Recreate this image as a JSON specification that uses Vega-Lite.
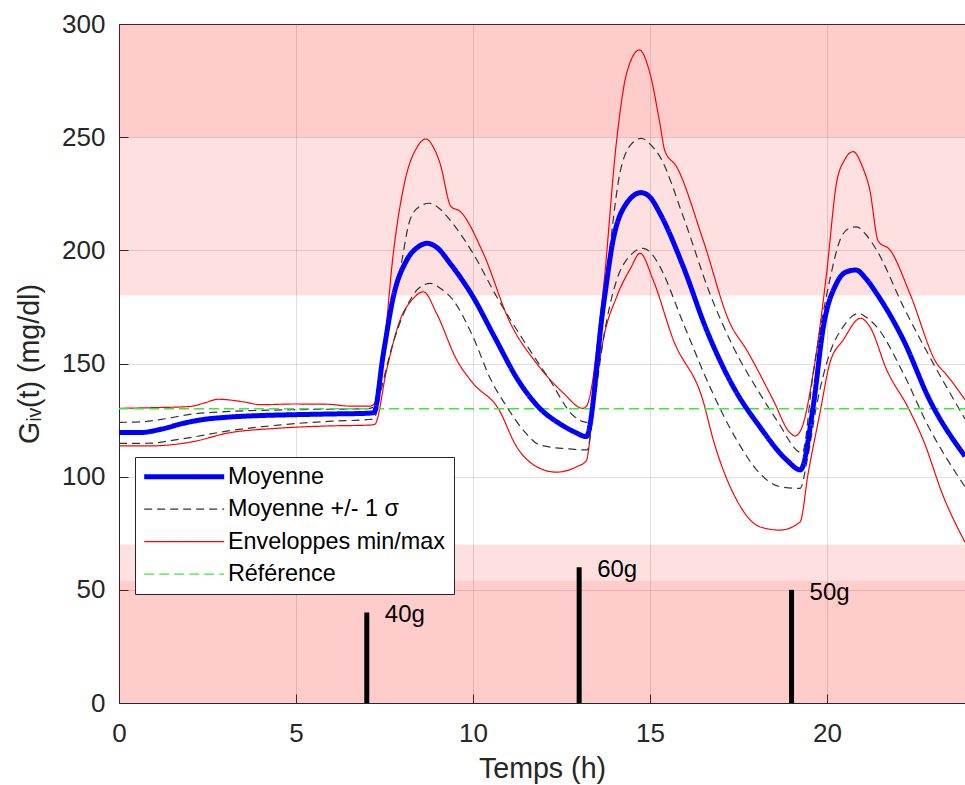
{
  "$schema": "https://vega.github.io/schema/vega-lite/v6.json",
  "width": 846,
  "height": 679,
  "autosize": {"type": "none"},
  "padding": {"left": 119, "top": 24, "right": 0, "bottom": 82},
  "background": "white",
  "config": {
    "view": {"stroke": "#262626", "strokeWidth": 1},
    "font": "Liberation Sans",
    "axis": {
      "domainColor": "#262626",
      "tickColor": "#262626",
      "labelColor": "#262626",
      "titleColor": "#262626",
      "gridColor": "#262626",
      "gridOpacity": 0.15,
      "labelFont": "Liberation Sans",
      "titleFont": "Liberation Sans",
      "labelFontSize": 26,
      "titleFontSize": 28.6,
      "titleFontWeight": "normal",
      "labelFlush": false,
      "ticks": true,
      "tickSize": -9,
      "tickWidth": 1
    },
    "legend": {
      "fillColor": "white",
      "strokeColor": "#262626",
      "padding": 8,
      "labelFont": "Liberation Sans",
      "labelFontSize": 23.4,
      "labelColor": "#000000",
      "symbolType": "M-8,0H8",
      "symbolSize": 100,
      "symbolOffset": 29.5,
      "labelOffset": 32,
      "rowPadding": 7.5,
      "labelLimit": 400
    }
  },
  "datasets": {
    "bands": [
      {"lo": 0, "hi": 54, "zone": "danger", "t0": 0, "t1": 23.9},
      {"lo": 54, "hi": 70, "zone": "warn", "t0": 0, "t1": 23.9},
      {"lo": 180, "hi": 250, "zone": "warn", "t0": 0, "t1": 23.9},
      {"lo": 250, "hi": 300, "zone": "danger", "t0": 0, "t1": 23.9}
    ],
    "meals": [
      {"t": 7, "amount": 40, "label": "40g"},
      {"t": 13, "amount": 60, "label": "60g"},
      {"t": 19, "amount": 50, "label": "50g"}
    ],
    "curves": [
      {"serie": "Référence", "line": "ref", "t": 0, "g": 130},
      {"serie": "Référence", "line": "ref", "t": 23.9, "g": 130},

      {"serie": "Moyenne", "line": "moy", "t": 0, "g": 119.5},
      {"serie": "Moyenne", "line": "moy", "t": 0.6, "g": 119.5},
      {"serie": "Moyenne", "line": "moy", "t": 1.2, "g": 121},
      {"serie": "Moyenne", "line": "moy", "t": 1.8, "g": 123.5},
      {"serie": "Moyenne", "line": "moy", "t": 2.4, "g": 125.3},
      {"serie": "Moyenne", "line": "moy", "t": 3, "g": 126.2},
      {"serie": "Moyenne", "line": "moy", "t": 4, "g": 127},
      {"serie": "Moyenne", "line": "moy", "t": 5, "g": 127.4},
      {"serie": "Moyenne", "line": "moy", "t": 6, "g": 127.7},
      {"serie": "Moyenne", "line": "moy", "t": 7, "g": 128},
      {"serie": "Moyenne", "line": "moy", "t": 7.2, "g": 128.3},
      {"serie": "Moyenne", "line": "moy", "t": 7.47, "g": 154.5},
      {"serie": "Moyenne", "line": "moy", "t": 7.75, "g": 179.5},
      {"serie": "Moyenne", "line": "moy", "t": 8.13, "g": 195.7},
      {"serie": "Moyenne", "line": "moy", "t": 8.45, "g": 201.5},
      {"serie": "Moyenne", "line": "moy", "t": 8.71, "g": 203.1},
      {"serie": "Moyenne", "line": "moy", "t": 9.0, "g": 201},
      {"serie": "Moyenne", "line": "moy", "t": 9.35, "g": 194.3},
      {"serie": "Moyenne", "line": "moy", "t": 10.0, "g": 179.5},
      {"serie": "Moyenne", "line": "moy", "t": 10.6, "g": 162},
      {"serie": "Moyenne", "line": "moy", "t": 11.3, "g": 142},
      {"serie": "Moyenne", "line": "moy", "t": 11.9, "g": 130},
      {"serie": "Moyenne", "line": "moy", "t": 12.46, "g": 123.3},
      {"serie": "Moyenne", "line": "moy", "t": 12.9, "g": 119.5},
      {"serie": "Moyenne", "line": "moy", "t": 13.2, "g": 117.7},
      {"serie": "Moyenne", "line": "moy", "t": 13.68, "g": 175},
      {"serie": "Moyenne", "line": "moy", "t": 13.96, "g": 204.6},
      {"serie": "Moyenne", "line": "moy", "t": 14.34, "g": 220.8},
      {"serie": "Moyenne", "line": "moy", "t": 14.75, "g": 225.5},
      {"serie": "Moyenne", "line": "moy", "t": 15.0, "g": 223.5},
      {"serie": "Moyenne", "line": "moy", "t": 15.28, "g": 216.4},
      {"serie": "Moyenne", "line": "moy", "t": 15.94, "g": 192.8},
      {"serie": "Moyenne", "line": "moy", "t": 16.6, "g": 164.8},
      {"serie": "Moyenne", "line": "moy", "t": 17.35, "g": 139.8},
      {"serie": "Moyenne", "line": "moy", "t": 18.1, "g": 122.1},
      {"serie": "Moyenne", "line": "moy", "t": 18.86, "g": 107.4},
      {"serie": "Moyenne", "line": "moy", "t": 19.25, "g": 103},
      {"serie": "Moyenne", "line": "moy", "t": 19.61, "g": 130.9},
      {"serie": "Moyenne", "line": "moy", "t": 19.9, "g": 166.3},
      {"serie": "Moyenne", "line": "moy", "t": 20.27, "g": 185.4},
      {"serie": "Moyenne", "line": "moy", "t": 20.55, "g": 190.5},
      {"serie": "Moyenne", "line": "moy", "t": 20.82, "g": 191.3},
      {"serie": "Moyenne", "line": "moy", "t": 21.1, "g": 187.5},
      {"serie": "Moyenne", "line": "moy", "t": 21.4, "g": 181},
      {"serie": "Moyenne", "line": "moy", "t": 22.16, "g": 160.4},
      {"serie": "Moyenne", "line": "moy", "t": 22.9, "g": 133.9},
      {"serie": "Moyenne", "line": "moy", "t": 23.9, "g": 109},

      {"serie": "Moyenne +/- 1 σ", "line": "sup", "t": 0, "g": 124},
      {"serie": "Moyenne +/- 1 σ", "line": "sup", "t": 0.6, "g": 124.2},
      {"serie": "Moyenne +/- 1 σ", "line": "sup", "t": 1.2, "g": 125.3},
      {"serie": "Moyenne +/- 1 σ", "line": "sup", "t": 2, "g": 127.5},
      {"serie": "Moyenne +/- 1 σ", "line": "sup", "t": 3, "g": 128.7},
      {"serie": "Moyenne +/- 1 σ", "line": "sup", "t": 4, "g": 129.3},
      {"serie": "Moyenne +/- 1 σ", "line": "sup", "t": 5, "g": 129.6},
      {"serie": "Moyenne +/- 1 σ", "line": "sup", "t": 6, "g": 129.8},
      {"serie": "Moyenne +/- 1 σ", "line": "sup", "t": 7, "g": 130},
      {"serie": "Moyenne +/- 1 σ", "line": "sup", "t": 7.2, "g": 130.8},
      {"serie": "Moyenne +/- 1 σ", "line": "sup", "t": 7.37, "g": 147},
      {"serie": "Moyenne +/- 1 σ", "line": "sup", "t": 7.6, "g": 170},
      {"serie": "Moyenne +/- 1 σ", "line": "sup", "t": 7.94, "g": 191.3},
      {"serie": "Moyenne +/- 1 σ", "line": "sup", "t": 8.22, "g": 213.4},
      {"serie": "Moyenne +/- 1 σ", "line": "sup", "t": 8.5, "g": 219.5},
      {"serie": "Moyenne +/- 1 σ", "line": "sup", "t": 8.76, "g": 220.8},
      {"serie": "Moyenne +/- 1 σ", "line": "sup", "t": 9.05, "g": 218.5},
      {"serie": "Moyenne +/- 1 σ", "line": "sup", "t": 9.35, "g": 213.4},
      {"serie": "Moyenne +/- 1 σ", "line": "sup", "t": 10.0, "g": 198.7},
      {"serie": "Moyenne +/- 1 σ", "line": "sup", "t": 10.67, "g": 179.5},
      {"serie": "Moyenne +/- 1 σ", "line": "sup", "t": 11.42, "g": 160.4},
      {"serie": "Moyenne +/- 1 σ", "line": "sup", "t": 12.17, "g": 142.7},
      {"serie": "Moyenne +/- 1 σ", "line": "sup", "t": 12.83, "g": 127},
      {"serie": "Moyenne +/- 1 σ", "line": "sup", "t": 13.22, "g": 124},
      {"serie": "Moyenne +/- 1 σ", "line": "sup", "t": 13.78, "g": 189.9},
      {"serie": "Moyenne +/- 1 σ", "line": "sup", "t": 14.15, "g": 234},
      {"serie": "Moyenne +/- 1 σ", "line": "sup", "t": 14.45, "g": 246.5},
      {"serie": "Moyenne +/- 1 σ", "line": "sup", "t": 14.76, "g": 249.5},
      {"serie": "Moyenne +/- 1 σ", "line": "sup", "t": 15.0, "g": 247},
      {"serie": "Moyenne +/- 1 σ", "line": "sup", "t": 15.28, "g": 241.4},
      {"serie": "Moyenne +/- 1 σ", "line": "sup", "t": 15.94, "g": 214.9},
      {"serie": "Moyenne +/- 1 σ", "line": "sup", "t": 16.69, "g": 181},
      {"serie": "Moyenne +/- 1 σ", "line": "sup", "t": 17.35, "g": 157.4},
      {"serie": "Moyenne +/- 1 σ", "line": "sup", "t": 18.1, "g": 136.8},
      {"serie": "Moyenne +/- 1 σ", "line": "sup", "t": 18.58, "g": 125},
      {"serie": "Moyenne +/- 1 σ", "line": "sup", "t": 19.3, "g": 110.5},
      {"serie": "Moyenne +/- 1 σ", "line": "sup", "t": 19.61, "g": 145.6},
      {"serie": "Moyenne +/- 1 σ", "line": "sup", "t": 20.08, "g": 186.9},
      {"serie": "Moyenne +/- 1 σ", "line": "sup", "t": 20.37, "g": 204.6},
      {"serie": "Moyenne +/- 1 σ", "line": "sup", "t": 20.6, "g": 209.5},
      {"serie": "Moyenne +/- 1 σ", "line": "sup", "t": 20.84, "g": 210.4},
      {"serie": "Moyenne +/- 1 σ", "line": "sup", "t": 21.1, "g": 207},
      {"serie": "Moyenne +/- 1 σ", "line": "sup", "t": 21.4, "g": 200.2},
      {"serie": "Moyenne +/- 1 σ", "line": "sup", "t": 22.16, "g": 175.1},
      {"serie": "Moyenne +/- 1 σ", "line": "sup", "t": 22.9, "g": 153},
      {"serie": "Moyenne +/- 1 σ", "line": "sup", "t": 23.9, "g": 125.5},

      {"serie": "Moyenne +/- 1 σ", "line": "inf", "t": 0, "g": 114.7},
      {"serie": "Moyenne +/- 1 σ", "line": "inf", "t": 0.9, "g": 114.8},
      {"serie": "Moyenne +/- 1 σ", "line": "inf", "t": 1.5, "g": 116},
      {"serie": "Moyenne +/- 1 σ", "line": "inf", "t": 2.1, "g": 117.5},
      {"serie": "Moyenne +/- 1 σ", "line": "inf", "t": 3, "g": 120},
      {"serie": "Moyenne +/- 1 σ", "line": "inf", "t": 4.5, "g": 122.8},
      {"serie": "Moyenne +/- 1 σ", "line": "inf", "t": 6, "g": 124.5},
      {"serie": "Moyenne +/- 1 σ", "line": "inf", "t": 7, "g": 125.2},
      {"serie": "Moyenne +/- 1 σ", "line": "inf", "t": 7.2, "g": 125.5},
      {"serie": "Moyenne +/- 1 σ", "line": "inf", "t": 7.4, "g": 138},
      {"serie": "Moyenne +/- 1 σ", "line": "inf", "t": 7.66, "g": 154.5},
      {"serie": "Moyenne +/- 1 σ", "line": "inf", "t": 8.13, "g": 175.1},
      {"serie": "Moyenne +/- 1 σ", "line": "inf", "t": 8.45, "g": 183},
      {"serie": "Moyenne +/- 1 σ", "line": "inf", "t": 8.79, "g": 185.4},
      {"serie": "Moyenne +/- 1 σ", "line": "inf", "t": 9.1, "g": 183},
      {"serie": "Moyenne +/- 1 σ", "line": "inf", "t": 9.44, "g": 178},
      {"serie": "Moyenne +/- 1 σ", "line": "inf", "t": 10.0, "g": 161.8},
      {"serie": "Moyenne +/- 1 σ", "line": "inf", "t": 10.5, "g": 143},
      {"serie": "Moyenne +/- 1 σ", "line": "inf", "t": 10.95, "g": 131},
      {"serie": "Moyenne +/- 1 σ", "line": "inf", "t": 11.42, "g": 120.6},
      {"serie": "Moyenne +/- 1 σ", "line": "inf", "t": 11.89, "g": 114},
      {"serie": "Moyenne +/- 1 σ", "line": "inf", "t": 12.65, "g": 112.3},
      {"serie": "Moyenne +/- 1 σ", "line": "inf", "t": 13.22, "g": 111.8},
      {"serie": "Moyenne +/- 1 σ", "line": "inf", "t": 13.45, "g": 135},
      {"serie": "Moyenne +/- 1 σ", "line": "inf", "t": 13.68, "g": 160.4},
      {"serie": "Moyenne +/- 1 σ", "line": "inf", "t": 14.06, "g": 186.9},
      {"serie": "Moyenne +/- 1 σ", "line": "inf", "t": 14.4, "g": 197},
      {"serie": "Moyenne +/- 1 σ", "line": "inf", "t": 14.81, "g": 200.9},
      {"serie": "Moyenne +/- 1 σ", "line": "inf", "t": 15.05, "g": 198.5},
      {"serie": "Moyenne +/- 1 σ", "line": "inf", "t": 15.28, "g": 192.8},
      {"serie": "Moyenne +/- 1 σ", "line": "inf", "t": 15.94, "g": 167.8},
      {"serie": "Moyenne +/- 1 σ", "line": "inf", "t": 16.69, "g": 139.8},
      {"serie": "Moyenne +/- 1 σ", "line": "inf", "t": 17.45, "g": 116.2},
      {"serie": "Moyenne +/- 1 σ", "line": "inf", "t": 18.1, "g": 101.5},
      {"serie": "Moyenne +/- 1 σ", "line": "inf", "t": 18.67, "g": 95.6},
      {"serie": "Moyenne +/- 1 σ", "line": "inf", "t": 19.24, "g": 94.8},
      {"serie": "Moyenne +/- 1 σ", "line": "inf", "t": 19.45, "g": 108},
      {"serie": "Moyenne +/- 1 σ", "line": "inf", "t": 19.7, "g": 130.9},
      {"serie": "Moyenne +/- 1 σ", "line": "inf", "t": 20.08, "g": 154.5},
      {"serie": "Moyenne +/- 1 σ", "line": "inf", "t": 20.46, "g": 166.3},
      {"serie": "Moyenne +/- 1 σ", "line": "inf", "t": 20.89, "g": 172.1},
      {"serie": "Moyenne +/- 1 σ", "line": "inf", "t": 21.1, "g": 170.5},
      {"serie": "Moyenne +/- 1 σ", "line": "inf", "t": 21.4, "g": 166.3},
      {"serie": "Moyenne +/- 1 σ", "line": "inf", "t": 22.16, "g": 145.6},
      {"serie": "Moyenne +/- 1 σ", "line": "inf", "t": 22.82, "g": 123.6},
      {"serie": "Moyenne +/- 1 σ", "line": "inf", "t": 23.9, "g": 95.5},

      {"serie": "Enveloppes min/max", "line": "max", "t": 0, "g": 130.2},
      {"serie": "Enveloppes min/max", "line": "max", "t": 1, "g": 130.5},
      {"serie": "Enveloppes min/max", "line": "max", "t": 2, "g": 131},
      {"serie": "Enveloppes min/max", "line": "max", "t": 2.4, "g": 132.5},
      {"serie": "Enveloppes min/max", "line": "max", "t": 2.8, "g": 134.2},
      {"serie": "Enveloppes min/max", "line": "max", "t": 3.5, "g": 133.1},
      {"serie": "Enveloppes min/max", "line": "max", "t": 4, "g": 131.8},
      {"serie": "Enveloppes min/max", "line": "max", "t": 4.9, "g": 132.1},
      {"serie": "Enveloppes min/max", "line": "max", "t": 5.9, "g": 132},
      {"serie": "Enveloppes min/max", "line": "max", "t": 6.5, "g": 131.2},
      {"serie": "Enveloppes min/max", "line": "max", "t": 7.1, "g": 131.2},
      {"serie": "Enveloppes min/max", "line": "max", "t": 7.25, "g": 133},
      {"serie": "Enveloppes min/max", "line": "max", "t": 7.47, "g": 154.5},
      {"serie": "Enveloppes min/max", "line": "max", "t": 7.75, "g": 198.7},
      {"serie": "Enveloppes min/max", "line": "max", "t": 8.13, "g": 234},
      {"serie": "Enveloppes min/max", "line": "max", "t": 8.4, "g": 245},
      {"serie": "Enveloppes min/max", "line": "max", "t": 8.67, "g": 249.2},
      {"serie": "Enveloppes min/max", "line": "max", "t": 8.9, "g": 245},
      {"serie": "Enveloppes min/max", "line": "max", "t": 9.07, "g": 238.4},
      {"serie": "Enveloppes min/max", "line": "max", "t": 9.38, "g": 219.3},
      {"serie": "Enveloppes min/max", "line": "max", "t": 9.63, "g": 217.3},
      {"serie": "Enveloppes min/max", "line": "max", "t": 10.29, "g": 198.7},
      {"serie": "Enveloppes min/max", "line": "max", "t": 11.05, "g": 168},
      {"serie": "Enveloppes min/max", "line": "max", "t": 11.8, "g": 150},
      {"serie": "Enveloppes min/max", "line": "max", "t": 12.55, "g": 137},
      {"serie": "Enveloppes min/max", "line": "max", "t": 13.1, "g": 130.2},
      {"serie": "Enveloppes min/max", "line": "max", "t": 13.2, "g": 131},
      {"serie": "Enveloppes min/max", "line": "max", "t": 13.68, "g": 182.5},
      {"serie": "Enveloppes min/max", "line": "max", "t": 14.06, "g": 248.8},
      {"serie": "Enveloppes min/max", "line": "max", "t": 14.34, "g": 278.2},
      {"serie": "Enveloppes min/max", "line": "max", "t": 14.7, "g": 288.5},
      {"serie": "Enveloppes min/max", "line": "max", "t": 15.0, "g": 278.2},
      {"serie": "Enveloppes min/max", "line": "max", "t": 15.28, "g": 256.1},
      {"serie": "Enveloppes min/max", "line": "max", "t": 15.42, "g": 244},
      {"serie": "Enveloppes min/max", "line": "max", "t": 15.75, "g": 237},
      {"serie": "Enveloppes min/max", "line": "max", "t": 16.5, "g": 204.6},
      {"serie": "Enveloppes min/max", "line": "max", "t": 17.26, "g": 167.8},
      {"serie": "Enveloppes min/max", "line": "max", "t": 17.73, "g": 156},
      {"serie": "Enveloppes min/max", "line": "max", "t": 18.48, "g": 133.9},
      {"serie": "Enveloppes min/max", "line": "max", "t": 18.95, "g": 119.5},
      {"serie": "Enveloppes min/max", "line": "max", "t": 19.1, "g": 118},
      {"serie": "Enveloppes min/max", "line": "max", "t": 19.3, "g": 122},
      {"serie": "Enveloppes min/max", "line": "max", "t": 19.61, "g": 145.6},
      {"serie": "Enveloppes min/max", "line": "max", "t": 19.99, "g": 189.9},
      {"serie": "Enveloppes min/max", "line": "max", "t": 20.27, "g": 229.7},
      {"serie": "Enveloppes min/max", "line": "max", "t": 20.5, "g": 240},
      {"serie": "Enveloppes min/max", "line": "max", "t": 20.74, "g": 243.6},
      {"serie": "Enveloppes min/max", "line": "max", "t": 21.0, "g": 237},
      {"serie": "Enveloppes min/max", "line": "max", "t": 21.21, "g": 226.7},
      {"serie": "Enveloppes min/max", "line": "max", "t": 21.45, "g": 204},
      {"serie": "Enveloppes min/max", "line": "max", "t": 21.78, "g": 200.2},
      {"serie": "Enveloppes min/max", "line": "max", "t": 22.34, "g": 181},
      {"serie": "Enveloppes min/max", "line": "max", "t": 23.1, "g": 150.1},
      {"serie": "Enveloppes min/max", "line": "max", "t": 23.38, "g": 145},
      {"serie": "Enveloppes min/max", "line": "max", "t": 23.9, "g": 134},

      {"serie": "Enveloppes min/max", "line": "min", "t": 0, "g": 113.6},
      {"serie": "Enveloppes min/max", "line": "min", "t": 0.9, "g": 113.6},
      {"serie": "Enveloppes min/max", "line": "min", "t": 2.1, "g": 115.5},
      {"serie": "Enveloppes min/max", "line": "min", "t": 3.05, "g": 119.2},
      {"serie": "Enveloppes min/max", "line": "min", "t": 4.5, "g": 121.4},
      {"serie": "Enveloppes min/max", "line": "min", "t": 5.9, "g": 122.4},
      {"serie": "Enveloppes min/max", "line": "min", "t": 7.1, "g": 122.8},
      {"serie": "Enveloppes min/max", "line": "min", "t": 7.23, "g": 123.2},
      {"serie": "Enveloppes min/max", "line": "min", "t": 7.56, "g": 147.1},
      {"serie": "Enveloppes min/max", "line": "min", "t": 7.94, "g": 169.2},
      {"serie": "Enveloppes min/max", "line": "min", "t": 8.3, "g": 178.5},
      {"serie": "Enveloppes min/max", "line": "min", "t": 8.6, "g": 181.7},
      {"serie": "Enveloppes min/max", "line": "min", "t": 8.97, "g": 172.2},
      {"serie": "Enveloppes min/max", "line": "min", "t": 9.54, "g": 151.6},
      {"serie": "Enveloppes min/max", "line": "min", "t": 10.0, "g": 141.3},
      {"serie": "Enveloppes min/max", "line": "min", "t": 10.72, "g": 130},
      {"serie": "Enveloppes min/max", "line": "min", "t": 11.23, "g": 113.3},
      {"serie": "Enveloppes min/max", "line": "min", "t": 11.8, "g": 104.4},
      {"serie": "Enveloppes min/max", "line": "min", "t": 12.36, "g": 102},
      {"serie": "Enveloppes min/max", "line": "min", "t": 12.93, "g": 104.4},
      {"serie": "Enveloppes min/max", "line": "min", "t": 13.2, "g": 107},
      {"serie": "Enveloppes min/max", "line": "min", "t": 13.4, "g": 131},
      {"serie": "Enveloppes min/max", "line": "min", "t": 13.68, "g": 160.4},
      {"serie": "Enveloppes min/max", "line": "min", "t": 14.06, "g": 179.5},
      {"serie": "Enveloppes min/max", "line": "min", "t": 14.45, "g": 192},
      {"serie": "Enveloppes min/max", "line": "min", "t": 14.72, "g": 198.7},
      {"serie": "Enveloppes min/max", "line": "min", "t": 15.09, "g": 186.9},
      {"serie": "Enveloppes min/max", "line": "min", "t": 15.66, "g": 160.4},
      {"serie": "Enveloppes min/max", "line": "min", "t": 16.5, "g": 133.5},
      {"serie": "Enveloppes min/max", "line": "min", "t": 16.79, "g": 116.2},
      {"serie": "Enveloppes min/max", "line": "min", "t": 17.45, "g": 89.7},
      {"serie": "Enveloppes min/max", "line": "min", "t": 18.1, "g": 77.9},
      {"serie": "Enveloppes min/max", "line": "min", "t": 18.67, "g": 76.4},
      {"serie": "Enveloppes min/max", "line": "min", "t": 19.24, "g": 80},
      {"serie": "Enveloppes min/max", "line": "min", "t": 19.47, "g": 101.5},
      {"serie": "Enveloppes min/max", "line": "min", "t": 19.8, "g": 128},
      {"serie": "Enveloppes min/max", "line": "min", "t": 20.08, "g": 150.1},
      {"serie": "Enveloppes min/max", "line": "min", "t": 20.46, "g": 160.4},
      {"serie": "Enveloppes min/max", "line": "min", "t": 20.95, "g": 170},
      {"serie": "Enveloppes min/max", "line": "min", "t": 21.21, "g": 166.3},
      {"serie": "Enveloppes min/max", "line": "min", "t": 21.69, "g": 147.1},
      {"serie": "Enveloppes min/max", "line": "min", "t": 22.3, "g": 130.3},
      {"serie": "Enveloppes min/max", "line": "min", "t": 22.72, "g": 116.2},
      {"serie": "Enveloppes min/max", "line": "min", "t": 23.29, "g": 91.2},
      {"serie": "Enveloppes min/max", "line": "min", "t": 23.9, "g": 71}
    ]
  },
  "layer": [
    {
      "data": {"name": "bands"},
      "transform": [{"filter": "datum.zone === 'danger'"}],
      "mark": {"type": "rect", "color": "#ff0000", "opacity": 0.2},
      "encoding": {
        "x": {"field": "t0", "type": "quantitative", "scale": {"domain": [0, 23.9], "nice": false, "padding": 0},
          "axis": {"values": [0, 5, 10, 15, 20], "title": "Temps (h)", "labelPadding": 26, "titlePadding": 8, "grid": true, "labelFlush": false}},
        "x2": {"field": "t1"},
        "y": {"field": "lo", "type": "quantitative", "scale": {"domain": [0, 300], "nice": false},
          "axis": {"values": [0, 50, 100, 150, 200, 250, 300], "title": "Gᵢᵥ(t) (mg/dl)", "labelPadding": 23, "titlePadding": 17, "grid": true, "labelFlush": false}},
        "y2": {"field": "hi"}
      }
    },
    {
      "data": {"name": "bands"},
      "transform": [{"filter": "datum.zone === 'warn'"}],
      "mark": {"type": "rect", "color": "#ff0000", "opacity": 0.12},
      "encoding": {
        "x": {"field": "t0", "type": "quantitative"},
        "x2": {"field": "t1"},
        "y": {"field": "lo", "type": "quantitative"},
        "y2": {"field": "hi"}
      }
    },
    {
      "data": {"name": "meals"},
      "mark": {"type": "bar", "color": "#000000", "size": 5, "orient": "vertical"},
      "encoding": {
        "x": {"field": "t", "type": "quantitative"},
        "y": {"field": "amount", "type": "quantitative"}
      }
    },
    {
      "data": {"name": "meals"},
      "mark": {"type": "text", "align": "left", "baseline": "middle", "dx": 18, "dy": 3, "fontSize": 24, "font": "Liberation Sans", "color": "#000000"},
      "encoding": {
        "x": {"field": "t", "type": "quantitative"},
        "y": {"field": "amount", "type": "quantitative"},
        "text": {"field": "label", "type": "nominal"}
      }
    },
    {
      "data": {"name": "curves"},
      "transform": [{"filter": "datum.line === 'max'"}],
      "mark": {"type": "line", "interpolate": "monotone", "strokeWidth": 1.2},
      "encoding": {
        "x": {"field": "t", "type": "quantitative"},
        "y": {"field": "g", "type": "quantitative"},
        "color": {"field": "serie", "type": "nominal",
          "scale": {"domain": ["Moyenne", "Moyenne +/- 1 σ", "Enveloppes min/max", "Référence"], "range": ["#0000ff", "#333333", "#ff0000", "#33ee33"]},
          "legend": {"title": null, "orient": "none", "legendX": 16, "legendY": 433,
            "encode": {"symbols": {"update": {"strokeWidth": {"signal": "datum.value === 'Moyenne' ? 5 : 1.2"}}}}}},
        "strokeDash": {"field": "serie", "type": "nominal",
          "scale": {"domain": ["Moyenne", "Moyenne +/- 1 σ", "Enveloppes min/max", "Référence"], "range": [[1, 0], [8, 5], [1, 0], [10, 5]]},
          "legend": {"title": null, "orient": "none", "legendX": 16, "legendY": 433}}
      }
    },
    {
      "data": {"name": "curves"},
      "transform": [{"filter": "datum.line === 'min'"}],
      "mark": {"type": "line", "interpolate": "monotone", "strokeWidth": 1.2},
      "encoding": {
        "x": {"field": "t", "type": "quantitative"},
        "y": {"field": "g", "type": "quantitative"},
        "color": {"field": "serie", "type": "nominal"},
        "strokeDash": {"field": "serie", "type": "nominal"}
      }
    },
    {
      "data": {"name": "curves"},
      "transform": [{"filter": "datum.line === 'sup'"}],
      "mark": {"type": "line", "interpolate": "monotone", "strokeWidth": 1.2},
      "encoding": {
        "x": {"field": "t", "type": "quantitative"},
        "y": {"field": "g", "type": "quantitative"},
        "color": {"field": "serie", "type": "nominal"},
        "strokeDash": {"field": "serie", "type": "nominal"}
      }
    },
    {
      "data": {"name": "curves"},
      "transform": [{"filter": "datum.line === 'inf'"}],
      "mark": {"type": "line", "interpolate": "monotone", "strokeWidth": 1.2},
      "encoding": {
        "x": {"field": "t", "type": "quantitative"},
        "y": {"field": "g", "type": "quantitative"},
        "color": {"field": "serie", "type": "nominal"},
        "strokeDash": {"field": "serie", "type": "nominal"}
      }
    },
    {
      "data": {"name": "curves"},
      "transform": [{"filter": "datum.line === 'ref'"}],
      "mark": {"type": "line", "strokeWidth": 1.5},
      "encoding": {
        "x": {"field": "t", "type": "quantitative"},
        "y": {"field": "g", "type": "quantitative"},
        "color": {"field": "serie", "type": "nominal"},
        "strokeDash": {"field": "serie", "type": "nominal"}
      }
    },
    {
      "data": {"name": "curves"},
      "transform": [{"filter": "datum.line === 'moy'"}],
      "mark": {"type": "line", "interpolate": "monotone", "strokeWidth": 5},
      "encoding": {
        "x": {"field": "t", "type": "quantitative"},
        "y": {"field": "g", "type": "quantitative"},
        "color": {"field": "serie", "type": "nominal"},
        "strokeDash": {"field": "serie", "type": "nominal"}
      }
    }
  ]
}
